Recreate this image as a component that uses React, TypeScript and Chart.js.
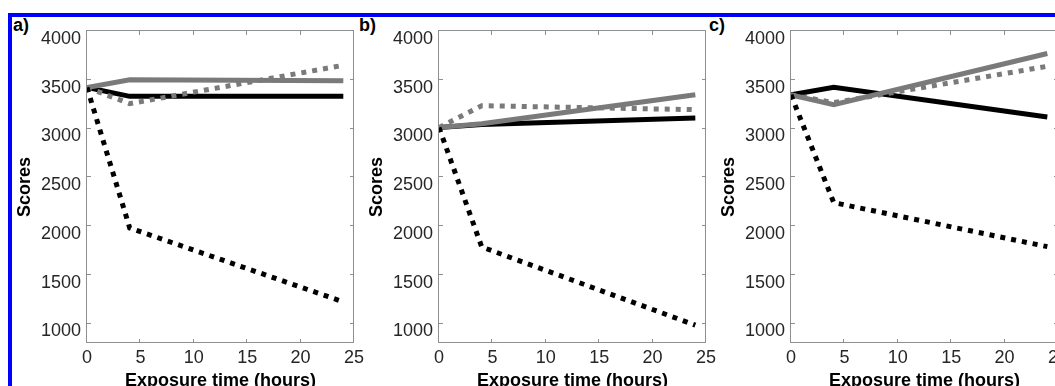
import React, { useEffect, useRef } from "react";
import { Chart, registerables } from "chart.js";

Chart.register(...registerables);

// ---- data ----
const hours = [0, 4, 24];
const xTickValues = [0, 5, 10, 15, 20, 25];
const yTickValues = [1000, 1500, 2000, 2500, 3000, 3500, 4000];
const panelLabels = ["a)", "b)", "c)"];
const xTitle = "Exposure time (hours)";
const yTitle = "Scores";

// panel a
const aBlackSolid = [3420, 3330, 3330];
const aGraySolid = [3420, 3500, 3490];
const aGrayDotted = [3420, 3255, 3648];
const aBlackDotted = [3420, 1980, 1222];
// panel b
const bBlackSolid = [3010, 3040, 3108];
const bGraySolid = [3010, 3049, 3347];
const bGrayDotted = [3010, 3234, 3193];
const bBlackDotted = [3010, 1785, 983];
// panel c
const cBlackSolid = [3345, 3422, 3118];
const cGraySolid = [3345, 3245, 3769];
const cGrayDotted = [3345, 3265, 3638];
const cBlackDotted = [3345, 2240, 1788];

const panels = [
  { blackSolid: aBlackSolid, graySolid: aGraySolid, grayDotted: aGrayDotted, blackDotted: aBlackDotted },
  { blackSolid: bBlackSolid, graySolid: bGraySolid, grayDotted: bGrayDotted, blackDotted: bBlackDotted },
  { blackSolid: cBlackSolid, graySolid: cGraySolid, grayDotted: cGrayDotted, blackDotted: cBlackDotted },
];

// ---- style ----
const FONT = '"Liberation Sans", Arial, Helvetica, sans-serif';
const BLACK = "#000000";
const GRAY = "#7a7a7a";
const FRAME = "#8f8f8f";
const TICK_TEXT = "#262626";
const CANVAS_W = 375;
const CANVAS_H = 400;
const PANEL_STEP = 352;
const LABEL_LEFT = [13, 359, 709];

const toPoints = (vals: number[]) => vals.map((v, i) => ({ x: hours[i], y: v }));

const framePlugin = {
  id: "frameTicks",
  beforeDatasetsDraw(chart: any) {
    const { ctx, chartArea, scales } = chart;
    const { left, right, top, bottom } = chartArea;
    ctx.save();
    ctx.strokeStyle = FRAME;
    ctx.lineWidth = 1;
    ctx.strokeRect(left - 0.5, top - 0.5, right - left, bottom - top);
    const len = 4;
    ctx.beginPath();
    for (const t of scales.x.ticks) {
      const px = Math.round(scales.x.getPixelForValue(t.value)) - 0.5;
      ctx.moveTo(px, bottom);
      ctx.lineTo(px, bottom - len);
      ctx.moveTo(px, top);
      ctx.lineTo(px, top + len);
    }
    for (const t of scales.y.ticks) {
      const py = Math.round(scales.y.getPixelForValue(t.value)) - 0.5;
      ctx.moveTo(left, py);
      ctx.lineTo(left + len, py);
      ctx.moveTo(right, py);
      ctx.lineTo(right - len, py);
    }
    ctx.stroke();
    ctx.restore();
  },
};

function Panel({ index }: { index: number }) {
  const ref = useRef<HTMLCanvasElement | null>(null);
  useEffect(() => {
    if (!ref.current) return;
    const p = panels[index];
    const common = { pointRadius: 0, tension: 0, borderWidth: 5, borderCapStyle: "butt", borderJoinStyle: "miter", fill: false };
    const chart = new Chart(ref.current, {
      type: "line",
      data: {
        datasets: [
          { ...common, label: "black dotted", data: toPoints(p.blackDotted), borderColor: BLACK, borderDash: [5, 6] },
          { ...common, label: "gray dotted", data: toPoints(p.grayDotted), borderColor: GRAY, borderDash: [5, 6] },
          { ...common, label: "gray solid", data: toPoints(p.graySolid), borderColor: GRAY },
          { ...common, label: "black solid", data: toPoints(p.blackSolid), borderColor: BLACK },
        ] as any,
      },
      options: {
        responsive: false,
        animation: false,
        devicePixelRatio: 1,
        layout: { padding: { top: 31, right: 21, left: 0, bottom: 0 } },
        plugins: { legend: { display: false }, tooltip: { enabled: false }, title: { display: false } },
        scales: {
          x: {
            type: "linear",
            min: 0,
            max: 25,
            afterBuildTicks: (s: any) => {
              s.ticks = xTickValues.map((value) => ({ value }));
            },
            afterFit: (s: any) => {
              s.height = 57;
            },
            grid: { display: false, drawTicks: false },
            border: { display: false },
            ticks: {
              font: { family: FONT, size: 18 },
              color: TICK_TEXT,
              padding: 4,
              maxRotation: 0,
              autoSkip: false,
              callback: (v: any) => String(v),
            },
            title: {
              display: true,
              text: xTitle,
              font: { family: FONT, size: 18, weight: "bold" },
              color: "#000",
              padding: { top: 0, bottom: 8 },
            },
          },
          y: {
            type: "linear",
            min: 800,
            max: 4000,
            afterBuildTicks: (s: any) => {
              s.ticks = yTickValues.map((value) => ({ value }));
            },
            afterFit: (s: any) => {
              s.width = 87;
            },
            grid: { display: false, drawTicks: false },
            border: { display: false },
            ticks: {
              font: { family: FONT, size: 18 },
              color: TICK_TEXT,
              padding: 6,
              labelOffset: 8,
              autoSkip: false,
              callback: (v: any) => String(v),
            },
            title: {
              display: true,
              text: yTitle,
              font: { family: FONT, size: 18, weight: "bold" },
              color: "#000",
              padding: { top: 14, bottom: 0 },
            },
          },
        },
      } as any,
      plugins: [framePlugin],
    });
    return () => chart.destroy();
  }, [index]);
  return (
    <canvas
      ref={ref}
      width={CANVAS_W}
      height={CANVAS_H}
      style={{ position: "absolute", left: index * PANEL_STEP, top: 0, width: CANVAS_W, height: CANVAS_H }}
    />
  );
}

export default function App() {
  return (
    <div
      style={{
        position: "fixed",
        left: 0,
        top: 0,
        width: 1055,
        height: 386,
        overflow: "hidden",
        background: "#ffffff",
      }}
    >
      <div
        style={{
          position: "absolute",
          left: 8,
          top: 13,
          width: 1200,
          height: 600,
          border: "4px solid #0000ff",
          boxSizing: "border-box",
        }}
      />
      {panelLabels.map((t, i) => (
        <div
          key={t}
          style={{
            position: "absolute",
            left: LABEL_LEFT[i],
            top: 16,
            fontFamily: FONT,
            fontWeight: "bold",
            fontSize: 18,
            lineHeight: "18px",
            color: "#000",
          }}
        >
          {t}
        </div>
      ))}
      {[0, 1, 2].map((i) => (
        <Panel key={i} index={i} />
      ))}
    </div>
  );
}
